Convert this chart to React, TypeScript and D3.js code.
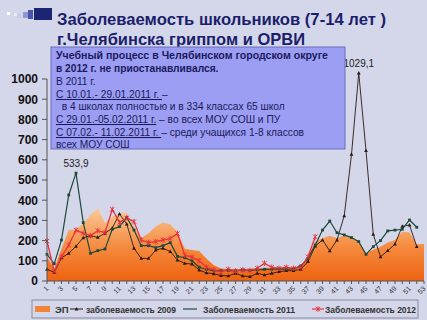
import React from "react";
import * as d3 from "d3";

const weeks = [1,2,3,4,5,6,7,8,9,10,11,12,13,14,15,16,17,18,19,20,21,22,23,24,25,26,27,28,29,30,31,32,33,34,35,36,37,38,39,40,41,42,43,44,45,46,47,48,49,50,51,52,53];
const xTickLabels = [1,3,5,7,9,11,13,15,17,19,21,23,25,27,29,31,33,35,37,39,41,43,45,47,49,51,53];
const yTicks = [0,100,200,300,400,500,600,700,800,900,1000];

// ЭП (epidemic threshold)
const ep = [120,60,160,252,255,286,327,360,286,318,335,338,269,212,236,270,289,280,244,160,154,148,110,78,62,60,58,58,60,62,65,65,65,65,66,75,120,195,212,224,213,225,220,195,137,155,170,190,203,244,240,182,183];
// заболеваемость 2009
const s2009 = [58,43,115,137,172,214,224,216,236,262,332,282,162,112,112,153,162,146,104,87,84,54,40,36,27,25,38,25,22,38,30,38,46,51,51,58,96,173,203,149,203,323,627,1029.1,645,231,120,150,183,271,277,170,null];
// Заболеваемость 2011
const s2011 = [132,85,203,426,533.9,289,137,150,158,256,269,314,252,175,175,165,175,190,122,115,100,68,58,50,52,52,50,55,52,55,58,58,60,58,60,75,112,178,252,297,239,228,215,195,132,170,200,248,252,256,302,266,null];
// Заболеваемость 2012
const s2012 = [198,48,120,178,252,236,224,249,239,355,289,312,294,203,190,195,203,210,235,128,118,100,68,54,45,58,50,55,52,63,88,68,63,68,63,68,120,219];

const labels = [
  { week: 5, value: 533.9, text: "533,9" },
  { week: 44, value: 1029.1, text: "1029,1" },
];

const FONT = "'Liberation Sans', Arial, sans-serif";

export default function App() {
  const W = 427, H = 320;
  const x = d3.scalePoint<number>().domain(weeks).range([47, 424]);
  const y = d3.scaleLinear().domain([0, 1000]).range([281, 79]);

  const area = d3.area<number>()
    .x((_, i) => x(weeks[i])!)
    .y0(y(0))
    .y1((d) => y(d));

  const line = d3.line<number | null>()
    .defined((d) => d != null)
    .x((_, i) => x(weeks[i])!)
    .y((d) => y(d as number));

  const c2009 = "#2a1a14";
  const c2011 = "#1f4a3a";
  const c2012 = "#e8323c";

  const star = (cx: number, cy: number, k: string) => (
    <g key={k} stroke={c2012} strokeWidth={0.9}>
      <line x1={cx - 2.2} y1={cy - 2.2} x2={cx + 2.2} y2={cy + 2.2} />
      <line x1={cx - 2.2} y1={cy + 2.2} x2={cx + 2.2} y2={cy - 2.2} />
      <line x1={cx} y1={cy - 2.8} x2={cx} y2={cy + 2.8} />
    </g>
  );
  const tri = (cx: number, cy: number, k: string, fill = c2009) => (
    <path key={k} d={`M${cx},${cy - 2}L${cx + 1.9},${cy + 1.4}L${cx - 1.9},${cy + 1.4}Z`} fill={fill} />
  );
  const sq = (cx: number, cy: number, k: string) => (
    <rect key={k} x={cx - 1.4} y={cy - 1.4} width={2.8} height={2.8} fill={c2011} />
  );

  return (
    <svg width={W} height={H} style={{ position: "absolute", left: 0, top: 0 }} fontFamily={FONT}>
      <defs>
        <linearGradient id="epGrad" gradientUnits="userSpaceOnUse" x1="0" y1={y(0)} x2="0" y2={y(370)}>
          <stop offset="0%" stopColor="#ee6210" />
          <stop offset="45%" stopColor="#f58a3e" />
          <stop offset="100%" stopColor="#fbcc9c" />
        </linearGradient>
      </defs>
      <rect x={0} y={0} width={W} height={H} fill="#d4d6ea" />

      {/* decorative squares */}
      <rect x={7} y={12} width={3} height={3} fill="#ffffff" />
      <rect x={14} y={13} width={3} height={3} fill="#e8eaf4" />
      <rect x={17} y={13} width={4} height={5} fill="#c8cce6" />
      <rect x={23} y={12} width={5} height={6} fill="#8f97d0" />
      <rect x={28} y={10} width={5} height={9} fill="#4a54a8" />
      <rect x={34} y={8} width={18} height={12} fill="#1c2474" />

      {/* title */}
      <text x={57} y={25} fontSize={17} fontWeight="bold" fill="#1b1f6b" textLength={329} lengthAdjust="spacingAndGlyphs">Заболеваемость школьников (7-14 лет )</text>
      <text x={57} y={45} fontSize={17} fontWeight="bold" fill="#1b1f6b" textLength={248} lengthAdjust="spacingAndGlyphs">г.Челябинска гриппом и ОРВИ</text>

      {/* area */}
      <path d={area(ep) ?? ""} fill="url(#epGrad)" />

      {/* lines */}
      <path d={line(s2009) ?? ""} fill="none" stroke={c2009} strokeWidth={0.9} />
      <path d={line(s2011) ?? ""} fill="none" stroke={c2011} strokeWidth={1.2} />
      <path d={line(s2012) ?? ""} fill="none" stroke={c2012} strokeWidth={1.3} />

      {s2009.map((v, i) => (v == null ? null : tri(x(weeks[i])!, y(v), "a" + i)))}
      {s2011.map((v, i) => (v == null ? null : sq(x(weeks[i])!, y(v), "b" + i)))}
      {s2012.map((v, i) => star(x(weeks[i])!, y(v), "c" + i))}

      {/* data labels */}
      {labels.map((l) => (
        <text key={l.text} x={x(l.week)!} y={y(l.value) - 6} fontSize={10} textAnchor="middle" fill="#222">{l.text}</text>
      ))}

      {/* y axis */}
      <line x1={47} x2={47} y1={y(1000)} y2={y(0)} stroke="#555" strokeWidth={1} />
      {yTicks.map((t) => (
        <g key={t}>
          <line x1={42} x2={47} y1={y(t)} y2={y(t)} stroke="#555" />
          <text x={38} y={y(t) + 4.3} fontSize={12} fontWeight="bold" textAnchor="end" fill="#111">{t}</text>
        </g>
      ))}

      {/* x axis */}
      <line x1={47} x2={424} y1={y(0)} y2={y(0)} stroke="#555" />
      {weeks.map((w) => (
        <line key={w} x1={x(w)!} x2={x(w)!} y1={y(0)} y2={y(0) + 3} stroke="#555" />
      ))}
      {xTickLabels.map((w) => (
        <text key={w} transform={`translate(${x(w)! + 2},${y(0) + 8}) rotate(-45)`} fontSize={7} textAnchor="end" fill="#333">{w}</text>
      ))}

      {/* text box */}
      <rect x={51} y={47} width={294} height={102} fill="#9c9ef4" stroke="#6a6cb8" strokeWidth={1} />
      <g fontSize={10.2} fill="#1a1a5a">
        <text x={56} y={59} fontWeight="bold" textLength={272} lengthAdjust="spacingAndGlyphs">Учебный процесс в Челябинском городском округе</text>
        <text x={56} y={72} fontWeight="bold">в 2012 г. не приостанавливался.</text>
        <text x={56} y={85}>В 2011 г.</text>
        <text x={56} y={98}><tspan textDecoration="underline">С 10.01.- 29.01.2011 г. </tspan> –</text>
        <text x={56} y={110} xmlSpace="preserve">  в 4 школах полностью и в 334 классах 65 школ</text>
        <text x={56} y={123}><tspan textDecoration="underline">С 29.01.-05.02.2011 г.</tspan> – во всех МОУ СОШ и ПУ</text>
        <text x={56} y={136}><tspan textDecoration="underline">С 07.02.- 11.02.2011 г. </tspan> – среди учащихся 1-8 классов</text>
        <text x={56} y={148}>всех МОУ СОШ</text>
      </g>

      {/* legend */}
      <rect x={32} y={300} width={386} height={18} fill="#d4d6ea" stroke="#8a8c9c" strokeWidth={1} />
      <g fontSize={9.5} fontWeight="bold" fill="#333">
        <rect x={35} y={306} width={15} height={6} fill="#f2843a" />
        <text x={55} y={312.5}>ЭП</text>
        <line x1={70} x2={83} y1={309} y2={309} stroke={c2009} />
        {tri(76.5, 309, "lt")}
        <text x={86} y={312.5} textLength={90} lengthAdjust="spacingAndGlyphs">заболеваемость 2009</text>
        <line x1={183} x2={197} y1={309} y2={309} stroke={c2011} strokeWidth={1.2} />
        <text x={203} y={312.5} textLength={92} lengthAdjust="spacingAndGlyphs">Заболеваемость 2011</text>
        <line x1={312} x2={324} y1={309} y2={309} stroke={c2012} strokeWidth={1.2} />
        {star(318, 309, "ls")}
        <text x={325} y={312.5} textLength={91} lengthAdjust="spacingAndGlyphs">Заболеваемость 2012</text>
      </g>
    </svg>
  );
}
